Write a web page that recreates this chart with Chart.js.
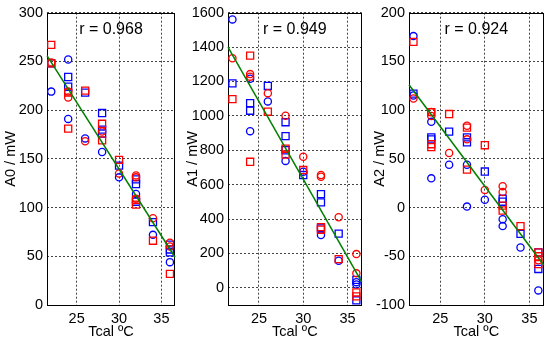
<!DOCTYPE html>
<html>
<head>
<meta charset="utf-8">
<script src="https://cdn.jsdelivr.net/npm/chart.js@4.4.0/dist/chart.umd.min.js"></script>
<style>
    body { margin: 0; background: #fff; }
    canvas { position: absolute; top: 0; }
</style>
</head>
<body>
<canvas id="chartA0" width="184" height="341" style="left:0px"></canvas>
<canvas id="chartA1" width="184" height="341" style="left:184px"></canvas>
<canvas id="chartA2" width="182" height="341" style="left:368px"></canvas>
<script>
// shared x axis
const xTicks = [25, 30, 35];
const fitX = [21.5, 36.6];

// A0 panel
const a0Ticks = [0, 50, 100, 150, 200, 250, 300];
const a0BlueCircle = [[22, 219], [24, 252], [24, 191], [26, 171], [28, 157], [30, 131], [32, 114], [34, 72], [36, 44]];
const a0BlueSquare = [[22, 248], [24, 234], [24, 224], [26, 218], [28, 197], [28, 180], [28, 176], [30, 143], [32, 129], [32, 124], [32, 106], [34, 85], [36, 62], [36, 57], [36, 54]];
const a0RedSquare = [[22, 267], [22, 248], [24, 218], [24, 181], [26, 220], [28, 186], [28, 169], [30, 149], [32, 108], [32, 103], [34, 66], [36, 32]];
const a0RedCircle = [[22, 249], [24, 219], [24, 213], [26, 168], [28, 178], [30, 135], [32, 133], [32, 131], [32, 109], [34, 89], [36, 64], [36, 60]];
const a0Fit = [256, 49];

// A1 panel
const a1Ticks = [0, 200, 400, 600, 800, 1000, 1200, 1400, 1600];
const a1BlueCircle = [[22, 1561], [24, 1216], [24, 911], [26, 1084], [28, 738], [30, 675], [32, 307], [34, 157], [36, 33], [36, 19]];
const a1BlueSquare = [[22, 1189], [24, 1074], [24, 1030], [26, 1174], [28, 963], [28, 882], [28, 800], [30, 656], [32, 545], [32, 497], [32, 345], [34, 315], [36, 46], [36, -73]];
const a1RedSquare = [[22, 1097], [24, 1350], [24, 733], [26, 1024], [28, 809], [28, 775], [30, 685], [32, 353], [32, 338], [34, 167], [36, -27], [36, -50]];
const a1RedCircle = [[22, 1335], [24, 1243], [24, 1228], [26, 1132], [28, 1001], [30, 762], [32, 656], [32, 646], [34, 410], [36, 196], [36, 84]];
const a1Fit = [1400, 35];

// A2 panel
const a2Ticks = [-100, -50, 0, 50, 100, 150, 200];
const a2BlueCircle = [[22, 176], [22, 115], [24, 88], [24, 30], [26, 44], [28, 44], [28, 1], [30, 8], [32, -12], [32, -19], [34, -41], [36, -85]];
const a2BlueSquare = [[22, 117], [24, 72], [24, 70], [26, 78], [28, 72], [28, 67], [30, 37], [32, 9], [32, 6], [34, -27], [36, -46], [36, -63]];
const a2RedSquare = [[22, 170], [24, 98], [24, 65], [24, 62], [26, 96], [28, 82], [28, 39], [30, 64], [32, 2], [32, -3], [34, -19], [36, -46], [36, -50], [36, -58]];
const a2RedCircle = [[22, 112], [24, 98], [24, 94], [26, 56], [28, 84], [28, 70], [30, 18], [32, 22], [32, 16], [36, -54]];
const a2Fit = [126, -59];

const FONT = "'Liberation Sans', Arial, sans-serif";
const BLUE = 'rgb(0,0,255)';
const RED = 'rgb(255,0,0)';
const GREEN = 'rgb(0,128,0)';

function toPoints(pairs) {
    return pairs.map(function (p) { return {x: p[0], y: p[1]}; });
}

function plainLabel(value) {
    return String(value);
}

function markers(pairs, color, style) {
    return {
        type: 'scatter',
        data: toPoints(pairs),
        pointStyle: style,
        pointRadius: style === 'rect' ? 5 : 3.6,
        pointBorderColor: color,
        pointBackgroundColor: 'rgba(0,0,0,0)',
        pointBorderWidth: 1.3,
        showLine: false,
        clip: false
    };
}

// frame round the plot area + correlation text
const framePlugin = {
    id: 'frame',
    beforeDatasetsDraw: function (chart) {
        let a = chart.chartArea;
        let ctx = chart.ctx;
        ctx.save();
        ctx.strokeStyle = '#000';
        ctx.lineWidth = 1;
        ctx.strokeRect(Math.round(a.left) + 0.5, Math.round(a.top) + 0.5,
            Math.round(a.right - a.left) - 1, Math.round(a.bottom - a.top));
        ctx.restore();
    },
    afterDatasetsDraw: function (chart, args, opts) {
        let a = chart.chartArea;
        let ctx = chart.ctx;
        ctx.save();
        ctx.fillStyle = '#000';
        ctx.font = '16px ' + FONT;
        ctx.textAlign = 'center';
        ctx.textBaseline = 'middle';
        ctx.fillText(opts.text, (a.left + a.right) / 2, a.top + 17);
        ctx.restore();
    }
};

function makePanel(id, cfg) {
    let datasets = [
        {
            type: 'line',
            data: toPoints([[fitX[0], cfg.fit[0]], [fitX[1], cfg.fit[1]]]),
            borderColor: GREEN,
            borderWidth: 1.5,
            pointRadius: 0,
            fill: false,
            clip: false
        },
        markers(cfg.redSquare, RED, 'rect'),
        markers(cfg.redCircle, RED, 'circle'),
        markers(cfg.blueSquare, BLUE, 'rect'),
        markers(cfg.blueCircle, BLUE, 'circle')
    ];
    return new Chart(document.getElementById(id), {
        type: 'scatter',
        data: {datasets: datasets},
        plugins: [framePlugin],
        options: {
            responsive: false,
            animation: false,
            devicePixelRatio: 1,
            layout: {padding: {top: 10, right: cfg.padRight, left: 0, bottom: 0}},
            plugins: {
                legend: {display: false},
                tooltip: {enabled: false},
                frame: {text: cfg.rText}
            },
            scales: {
                x: {
                    type: 'linear',
                    min: fitX[0],
                    max: fitX[1],
                    afterBuildTicks: function (scale) {
                        scale.ticks = xTicks.map(function (v) { return {value: v}; });
                    },
                    afterFit: function (scale) { scale.height = 36; },
                    grid: {color: '#444', drawTicks: false},
                    border: {display: false, dash: [2, 2]},
                    ticks: {color: '#000', padding: 5, callback: plainLabel, font: {family: FONT, size: 14.5}},
                    title: {
                        display: true,
                        text: 'Tcal ºC',
                        color: '#000',
                        padding: 0,
                        font: {family: FONT, size: 14.5}
                    }
                },
                y: {
                    type: 'linear',
                    min: cfg.min,
                    max: cfg.max,
                    afterBuildTicks: function (scale) {
                        scale.ticks = cfg.ticks.map(function (v) { return {value: v}; });
                    },
                    afterFit: function (scale) { scale.width = cfg.yWidth; },
                    grid: {color: '#444', drawTicks: false},
                    border: {display: false, dash: [2, 2]},
                    ticks: {color: '#000', padding: 4, callback: plainLabel, font: {family: FONT, size: 14.5}},
                    title: {
                        display: true,
                        text: cfg.title,
                        color: '#000',
                        padding: {top: cfg.titlePad, bottom: 0},
                        font: {family: FONT, size: 14.5}
                    }
                }
            }
        }
    });
}

makePanel('chartA0', {
    title: 'A0 / mW', rText: 'r = 0.968', min: 0, max: 300, ticks: a0Ticks,
    blueCircle: a0BlueCircle, blueSquare: a0BlueSquare, redSquare: a0RedSquare, redCircle: a0RedCircle,
    fit: a0Fit, yWidth: 47, padRight: 9, titlePad: 2
});
makePanel('chartA1', {
    title: 'A1 / mW', rText: 'r = 0.949', min: -100, max: 1600, ticks: a1Ticks,
    blueCircle: a1BlueCircle, blueSquare: a1BlueSquare, redSquare: a1RedSquare, redCircle: a1RedCircle,
    fit: a1Fit, yWidth: 44, padRight: 3, titlePad: 0
});
makePanel('chartA2', {
    title: 'A2 / mW', rText: 'r = 0.924', min: -100, max: 200, ticks: a2Ticks,
    blueCircle: a2BlueCircle, blueSquare: a2BlueSquare, redSquare: a2RedSquare, redCircle: a2RedCircle,
    fit: a2Fit, yWidth: 41, padRight: 3, titlePad: 3
});
</script>
</body>
</html>
